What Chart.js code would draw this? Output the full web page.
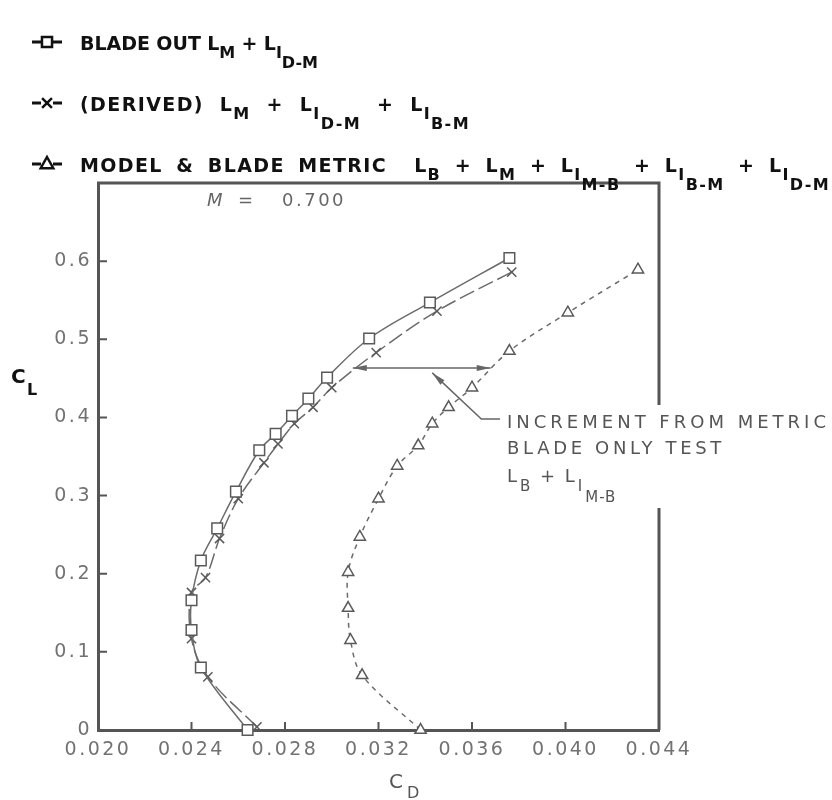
<!DOCTYPE html>
<html>
<head>
<meta charset="utf-8">
<title>CL vs CD, M = 0.700</title>
<script src="https://cdn.jsdelivr.net/npm/chart.js@4.4.1/dist/chart.umd.min.js"></script>
<style>
  html, body { margin: 0; padding: 0; background: #fff; }
</style>
</head>
<body>
<canvas id="polarChart" width="832" height="800"></canvas>
<script>
/* #region  DATA */
// blade out  L_M + L_I(D-M)
const bladeOutCD = [0.0264, 0.0244, 0.0240, 0.0240, 0.0244, 0.0251, 0.0259, 0.0269, 0.0276, 0.0283, 0.0290, 0.0298, 0.0316, 0.0342, 0.0376];
const bladeOutCL = [0.000, 0.080, 0.128, 0.166, 0.217, 0.258, 0.305, 0.358, 0.379, 0.402, 0.424, 0.451, 0.501, 0.547, 0.604];

// (derived)  L_M + L_I(D-M) + L_I(B-M)
const derivedCD = [0.0268, 0.0247, 0.0240, 0.0240, 0.0246, 0.0252, 0.0260, 0.0271, 0.0277, 0.0284, 0.0292, 0.0300, 0.0319, 0.0345, 0.0377];
const derivedCL = [0.004, 0.068, 0.117, 0.176, 0.195, 0.245, 0.296, 0.342, 0.366, 0.392, 0.413, 0.438, 0.483, 0.536, 0.586];

// model & blade metric
const metricCD = [0.0338, 0.0313, 0.0308, 0.0307, 0.0307, 0.0312, 0.0320, 0.0328, 0.0337, 0.0343, 0.0350, 0.0360, 0.0376, 0.0401, 0.0431];
const metricCL = [0.000, 0.070, 0.115, 0.156, 0.202, 0.247, 0.296, 0.338, 0.364, 0.392, 0.413, 0.438, 0.485, 0.534, 0.589];

const xTicks = [0.020, 0.024, 0.028, 0.032, 0.036, 0.040, 0.044];
const yTicks = [0, 0.1, 0.2, 0.3, 0.4, 0.5, 0.6];

// increment arrow (CL level, CD from / to) and its leader line
const incrementCL = 0.4634;
const incrementCD = [0.0309, 0.0368];
const leaderCD = [0.0343, 0.0364, 0.0372];
const leaderCL = [0.457, 0.398, 0.398];
/* #endregion */

const AXIS = "#555";
const LINE = "#6b6b6b";
const LABEL = "#727272";
const TICK_FONT = "DejaVu Sans";
const LEGEND_SIZE = 19;

const toPoints = (xs, ys) => xs.map((x, i) => ({ x: x, y: ys[i] }));

/* #region  TEXT HELPERS */
function partFont(ctx, lvl, size) {
  ctx.font = `bold ${lvl ? Math.round(size * 0.86) : size}px "DejaVu Sans"`;
}
const partDy = (lvl, size) => (lvl === 1 ? size * 0.42 : lvl === 2 ? size * 0.95 : 0);

// [text, level] pieces; level 1 = subscript, level 2 = sub-subscript.
// extra width is shared between letter spacing and the spaces
function richText(ctx, parts, x, y, size, ls, extra) {
  parts.forEach(([txt, lvl]) => {
    partFont(ctx, lvl, size);
    ctx.letterSpacing = ls + "px";
    const words = txt.split(" ");
    words.forEach((w, i) => {
      if (w) {
        ctx.fillText(w, x, y + partDy(lvl, size));
        x += ctx.measureText(w).width;
      }
      if (i < words.length - 1) x += ctx.measureText(" ").width + extra;
    });
  });
  ctx.letterSpacing = "0px";
  return x;
}

function richWidth(ctx, parts, size) {
  let w = 0, spaces = 0, chars = 0;
  ctx.letterSpacing = "0px";
  parts.forEach(([txt, lvl]) => {
    partFont(ctx, lvl, size);
    w += ctx.measureText(txt).width;
    spaces += txt.split(" ").length - 1;
    chars += txt.length;
  });
  return { w, spaces, chars };
}

// spaced text stretched to a given width
function fitText(ctx, txt, x, y, width) {
  ctx.letterSpacing = "0px";
  const w = ctx.measureText(txt).width;
  ctx.letterSpacing = ((width - w) / txt.length) + "px";
  ctx.fillText(txt, x, y);
  ctx.letterSpacing = "0px";
}

function marker(ctx, style, x, y, r) {
  ctx.beginPath();
  if (style === "rect") {
    const s = r * 0.72;
    ctx.rect(x - s, y - s, 2 * s, 2 * s);
    ctx.fill();
    ctx.stroke();
  } else if (style === "triangle") {
    ctx.moveTo(x, y - r);
    ctx.lineTo(x + r * 0.9, y + r * 0.6);
    ctx.lineTo(x - r * 0.9, y + r * 0.6);
    ctx.closePath();
    ctx.fill();
    ctx.stroke();
  } else {
    const s = r * 0.7;
    ctx.moveTo(x - s, y - s);
    ctx.lineTo(x + s, y + s);
    ctx.moveTo(x + s, y - s);
    ctx.lineTo(x - s, y + s);
    ctx.stroke();
  }
}
/* #endregion */

const legendRows = [
  { style: "rect", y: 50, end: 318,
    parts: [["BLADE OUT ", 0], ["L", 0], ["M", 1], [" + ", 0], ["L", 0], ["I", 1], ["D-M", 2]] },
  { style: "crossRot", y: 111, end: 470,
    parts: [["(DERIVED) ", 0], ["L", 0], ["M", 1], [" + ", 0], ["L", 0], ["I", 1], ["D-M", 2], [" + ", 0], ["L", 0], ["I", 1], ["B-M", 2]] },
  { style: "triangle", y: 172, end: 830,
    parts: [["MODEL & BLADE METRIC  ", 0], ["L", 0], ["B", 1], [" + ", 0], ["L", 0], ["M", 1], [" + ", 0], ["L", 0], ["I", 1], ["M-B", 2],
            [" + ", 0], ["L", 0], ["I", 1], ["B-M", 2], [" + ", 0], ["L", 0], ["I", 1], ["D-M", 2]] },
];

/* #region  PLUGINS */
const tickSpacing = {
  id: "tickSpacing",
  beforeDraw(chart) {
    chart.ctx.letterSpacing = "2.5px";
  },
};

const decorations = {
  id: "decorations",
  afterDraw(chart) {
    const ctx = chart.ctx;
    const { left, right, top, bottom } = chart.chartArea;
    const xs = chart.scales.x;
    const ys = chart.scales.y;
    ctx.save();
    ctx.letterSpacing = "0px";

    // top and right frame, right side broken by the note
    ctx.strokeStyle = AXIS;
    ctx.lineWidth = 3;
    ctx.beginPath();
    ctx.moveTo(left - 1, top);
    ctx.lineTo(right, top);
    ctx.lineTo(right, 405);
    ctx.moveTo(right, 508);
    ctx.lineTo(right, bottom);
    ctx.stroke();

    // inside tick marks
    ctx.lineWidth = 2;
    ctx.beginPath();
    xTicks.slice(1, -1).forEach((v) => {
      const px = xs.getPixelForValue(v);
      ctx.moveTo(px, bottom);
      ctx.lineTo(px, bottom - 8);
    });
    yTicks.slice(1).forEach((v) => {
      const py = ys.getPixelForValue(v);
      ctx.moveTo(left, py);
      ctx.lineTo(left + 9, py);
    });
    ctx.stroke();

    // increment arrow
    const ay = ys.getPixelForValue(incrementCL);
    const ax0 = xs.getPixelForValue(incrementCD[0]);
    const ax1 = xs.getPixelForValue(incrementCD[1]);
    ctx.strokeStyle = "#666";
    ctx.fillStyle = "#666";
    ctx.lineWidth = 1.5;
    ctx.beginPath();
    ctx.moveTo(ax0, ay);
    ctx.lineTo(ax1, ay);
    ctx.stroke();
    [[ax0, -1], [ax1, 1]].forEach(([px, d]) => {
      ctx.beginPath();
      ctx.moveTo(px, ay);
      ctx.lineTo(px - d * 14, ay - 3);
      ctx.lineTo(px - d * 14, ay + 3);
      ctx.closePath();
      ctx.fill();
    });
    // leader
    const lp = leaderCD.map((v, i) => [xs.getPixelForValue(v), ys.getPixelForValue(leaderCL[i])]);
    ctx.beginPath();
    ctx.moveTo(lp[0][0], lp[0][1]);
    lp.slice(1).forEach((p) => ctx.lineTo(p[0], p[1]));
    ctx.stroke();
    const ang = Math.atan2(lp[0][1] - lp[1][1], lp[0][0] - lp[1][0]);
    ctx.save();
    ctx.translate(lp[0][0], lp[0][1]);
    ctx.rotate(ang);
    ctx.beginPath();
    ctx.moveTo(0, 0);
    ctx.lineTo(-14, -3);
    ctx.lineTo(-14, 3);
    ctx.closePath();
    ctx.fill();
    ctx.restore();

    // note text
    ctx.fillStyle = "#555";
    ctx.textBaseline = "alphabetic";
    ctx.font = '18px "DejaVu Sans"';
    fitText(ctx, "INCREMENT FROM METRIC", 507, 428, 323);
    fitText(ctx, "BLADE ONLY TEST", 507, 454, 218);
    ctx.letterSpacing = "1px";
    let tx = 507;
    [["L", 0], ["B", 1], [" + ", 0], ["L", 0], ["I", 1], ["M-B", 2]].forEach(([t, lvl]) => {
      ctx.font = (lvl ? 15 : 18) + 'px "DejaVu Sans"';
      ctx.fillText(t, tx, 482 + (lvl === 1 ? 9 : lvl === 2 ? 20 : 0));
      tx += ctx.measureText(t).width + 2;
    });
    ctx.letterSpacing = "0px";

    // Mach number
    ctx.fillStyle = "#666";
    ctx.font = 'italic 18px "DejaVu Sans"';
    ctx.fillText("M", 207, 206);
    ctx.font = '18px "DejaVu Sans"';
    ctx.fillText("=", 238, 206);
    ctx.letterSpacing = "2.5px";
    ctx.fillText("0.700", 282, 206);
    ctx.letterSpacing = "0px";

    // axis titles
    ctx.fillStyle = "#111";
    ctx.font = 'bold 20px "DejaVu Sans"';
    ctx.fillText("C", 11, 383);
    ctx.font = 'bold 16px "DejaVu Sans"';
    ctx.fillText("L", 27, 395);
    ctx.fillStyle = "#555";
    ctx.font = '20px "DejaVu Sans"';
    ctx.fillText("C", 389, 788);
    ctx.font = '16px "DejaVu Sans"';
    ctx.fillText("D", 407, 798);

    // legend
    legendRows.forEach((row) => {
      const cy = row.y - 8;
      ctx.strokeStyle = "#111";
      ctx.lineWidth = 3;
      ctx.beginPath();
      ctx.moveTo(32, cy);
      ctx.lineTo(41, cy);
      ctx.moveTo(53, cy);
      ctx.lineTo(62, cy);
      ctx.stroke();
      ctx.fillStyle = "#fff";
      ctx.lineWidth = 2.5;
      marker(ctx, row.style, 47, cy, 7);
      ctx.fillStyle = "#111";
      const m = richWidth(ctx, row.parts, LEGEND_SIZE);
      const extra = row.end - 80 - m.w;
      const ls = Math.max(0, extra * 0.5 / m.chars);
      const sp = (extra - ls * m.chars) / m.spaces;
      richText(ctx, row.parts, 80, row.y, LEGEND_SIZE, ls, sp);
    });
    ctx.restore();
  },
};
/* #endregion */

/* #region  CHART */
const ctx = document.getElementById("polarChart").getContext("2d");

const polarChart = new Chart(ctx, {
  type: "scatter",
  data: {
    datasets: [
      {
        label: "Blade out",
        data: toPoints(bladeOutCD, bladeOutCL),
        showLine: true,
        borderColor: LINE,
        borderWidth: 1.5,
        tension: 0.35,
        pointStyle: "rect",
        pointRadius: 7.5,
        pointBackgroundColor: "#fff",
        pointBorderColor: "#5a5a5a",
        pointBorderWidth: 1.5,
      },
      {
        label: "Derived",
        data: toPoints(derivedCD, derivedCL),
        showLine: true,
        borderColor: LINE,
        borderWidth: 1.5,
        borderDash: [16, 5],
        tension: 0.35,
        pointStyle: "crossRot",
        pointRadius: 6.5,
        pointBorderColor: "#5a5a5a",
        pointBorderWidth: 1.5,
      },
      {
        label: "Model & blade metric",
        data: toPoints(metricCD, metricCL),
        showLine: true,
        borderColor: LINE,
        borderWidth: 1.5,
        borderDash: [5, 5],
        tension: 0.35,
        pointStyle: "triangle",
        pointRadius: 6.5,
        pointBackgroundColor: "#fff",
        pointBorderColor: "#5a5a5a",
        pointBorderWidth: 1.5,
      },
    ],
  },
  options: {
    responsive: false,
    animation: false,
    devicePixelRatio: 1,
    clip: false,
    layout: { padding: { top: 183, right: 173, left: 0, bottom: 0 } },
    plugins: {
      legend: { display: false },
      tooltip: { enabled: false },
    },
    scales: {
      x: {
        type: "linear",
        min: 0.020,
        max: 0.044,
        afterBuildTicks: (scale) => { scale.ticks = xTicks.map((v) => ({ value: v })); },
        afterFit: (scale) => { scale.height = 70; },
        grid: { display: false, drawTicks: false },
        border: { display: true, color: AXIS, width: 3 },
        ticks: {
          padding: 9,
          color: LABEL,
          font: { family: TICK_FONT, size: 19 },
          maxRotation: 0,
          callback: (v) => Number(v).toFixed(3),
        },
      },
      y: {
        type: "linear",
        min: 0,
        max: 0.7,
        afterBuildTicks: (scale) => { scale.ticks = yTicks.map((v) => ({ value: v })); },
        afterFit: (scale) => { scale.width = 98; },
        grid: { display: false, drawTicks: false },
        border: { display: true, color: AXIS, width: 3 },
        ticks: {
          padding: 6,
          color: LABEL,
          font: { family: TICK_FONT, size: 19 },
          callback: (v) => (v === 0 ? "0" : Number(v).toFixed(1)),
        },
      },
    },
  },
  plugins: [tickSpacing, decorations],
});
/* #endregion */
</script>
</body>
</html>
